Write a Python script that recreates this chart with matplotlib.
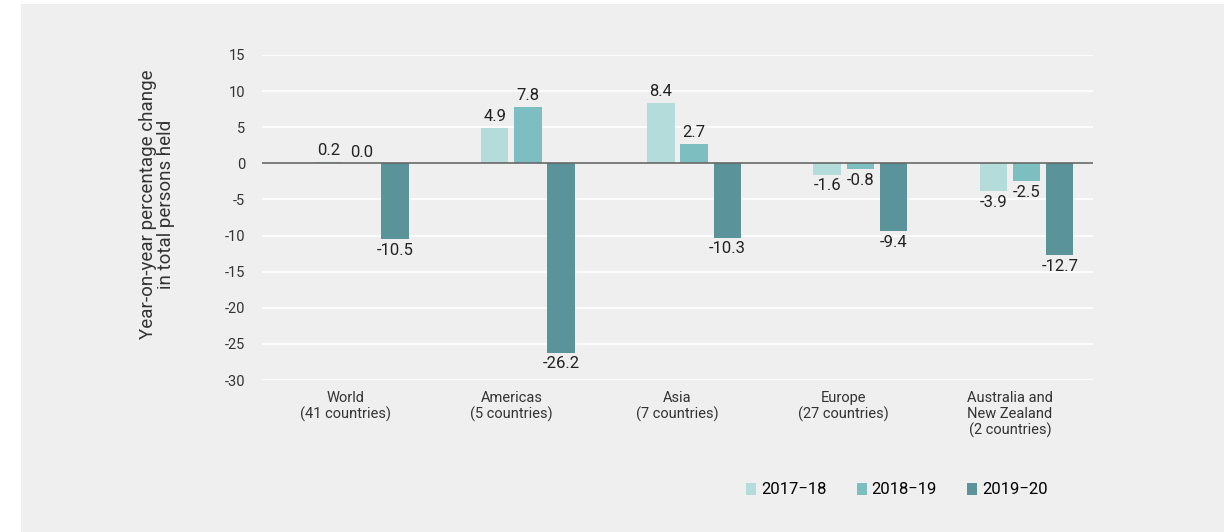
import numpy as np
import matplotlib.pyplot as plt
from matplotlib.patches import Rectangle

regions = ["World\n(41 countries)", "Americas\n(5 countries)", "Asia\n(7 countries)",
           "Europe\n(27 countries)", "Australia and\nNew Zealand\n(2 countries)"]
periods = ["2017\u221218", "2018\u221219", "2019\u221220"]
v_1718 = [0.2, 4.9, 8.4, -1.6, -3.9]
v_1819 = [0.0, 7.8, 2.7, -0.8, -2.5]
v_1920 = [-10.5, -26.2, -10.3, -9.4, -12.7]
colors = ["#b3dcda", "#7dbec0", "#5a9399"]

plt.rcParams['font.family'] = ['Roboto', 'DejaVu Sans']
plt.rcParams['axes.unicode_minus'] = False

fig = plt.figure(figsize=(12.24, 5.32), dpi=100)
fig.patches.append(Rectangle((21 / 1224, 0), 1, 1 - 4 / 532, transform=fig.transFigure,
                             facecolor="#efefef", edgecolor="none", zorder=-10))
ax = fig.add_axes([262 / 1224, 1 - 380 / 532, (1093 - 262) / 1224, 325 / 532])
ax.patch.set_alpha(0)

x = np.arange(len(regions))
w = 0.165
step = 0.2
series = [v_1718, v_1819, v_1920]
for k, vals in enumerate(series):
    pos = x + 0.1 + (k - 1) * step
    ax.bar(pos, vals, width=w, color=colors[k], label=periods[k], zorder=3)
    for px, v in zip(pos, vals):
        if v >= 0:
            ax.text(px, v + 0.5, f"{v:.1f}", ha="center", va="bottom", fontsize=12, color="#222222")
        else:
            ax.text(px, v - 0.5, f"{v:.1f}", ha="center", va="top", fontsize=12, color="#222222")

ax.axhline(0, color="#666666", lw=1.2, zorder=4)
ax.set_ylim(-30, 15)
ax.set_xlim(-0.5, 4.5)
ax.set_yticks(np.arange(-30, 16, 5))
ax.grid(axis="y", color="white", lw=1.2, zorder=1)
ax.set_xticks(x)
ax.set_xticklabels(regions, fontsize=10.5, color="#333333", linespacing=1.15)
ax.tick_params(axis="both", length=0, colors="#333333", labelsize=10.5)
ax.tick_params(axis="y", pad=12)
ax.tick_params(axis="x", pad=8)
for s in ax.spines.values():
    s.set_visible(False)

ax.set_ylabel("Year-on-year percentage change\nin total persons held", fontsize=13.5,
              color="#333333", linespacing=1.0)
ax.yaxis.set_label_coords(-0.105, 0.54)

ax.legend(loc="center", bbox_to_anchor=(897 / 1224, 1 - 490 / 532), bbox_transform=fig.transFigure,
          ncol=3, frameon=False, fontsize=12, handlelength=0.6, handleheight=0.7,
          handletextpad=0.3, columnspacing=1.8)

fig.savefig("out.png", dpi=100, facecolor="white")
